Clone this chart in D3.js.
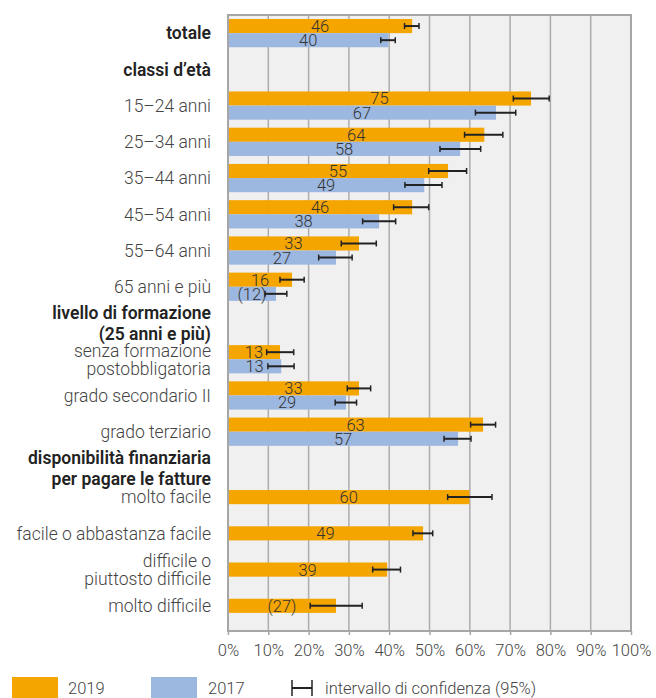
<!DOCTYPE html>
<html>
<head>
<meta charset="utf-8">
<script src="https://cdn.jsdelivr.net/npm/d3@7"></script>
<style>
  body { margin: 0; background: #fff; }
  svg text { font-family: Roboto, "Noto Sans", sans-serif; }
</style>
</head>
<body>
<svg id="chart"></svg>
<script>
// categories (row keys), with label lines and header flag
var categories = ['totale', 'classi', 'a15', 'a25', 'a35', 'a45', 'a55', 'a65',
  'livello', 'senza', 'secondario', 'terziario', 'disp', 'mfacile', 'facile', 'difficile', 'mdifficile'];
var categoryLabels = ['totale', 'classi d’età', '15–24 anni', '25–34 anni', '35–44 anni', '45–54 anni',
  '55–64 anni', '65 anni e più', 'livello di formazione\n(25 anni e più)',
  'senza formazione\npostobbligatoria', 'grado secondario II', 'grado terziario',
  'disponibilità finanziaria\nper pagare le fatture', 'molto facile', 'facile o abbastanza facile',
  'difficile o\npiuttosto difficile', 'molto difficile'];
var headerRows = ['totale', 'classi', 'livello', 'disp'];

var series = ['2019', '2017'];
var values2019 = [45.7, null, 75.2, 63.6, 54.6, 45.7, 32.5, 15.9, null, 12.9, 32.5, 63.3, null, 59.9, 48.4, 39.5, 26.8];
var low2019    = [43.8, null, 70.8, 58.7, 49.8, 41.1, 28.1, 12.9, null, 9.6, 29.6, 60.2, null, 54.5, 45.9, 35.9, 20.4];
var high2019   = [47.4, null, 79.7, 68.2, 59.2, 49.8, 36.8, 18.9, null, 16.3, 35.4, 66.4, null, 65.5, 50.8, 42.8, 33.3];
var labels2019 = ['46', '', '75', '64', '55', '46', '33', '16', '', '13', '33', '63', '', '60', '49', '39', '(27)'];

var values2017 = [39.8, null, 66.5, 57.6, 48.7, 37.5, 26.8, 11.9, null, 13.2, 29.3, 57.1, null, null, null, null, null];
var low2017    = [37.9, null, 61.4, 52.6, 43.9, 33.4, 22.5, 9.2, null, 9.9, 26.6, 53.6, null, null, null, null, null];
var high2017   = [41.5, null, 71.4, 62.7, 53.1, 41.6, 30.8, 14.6, null, 16.4, 31.9, 60.3, null, null, null, null, null];
var labels2017 = ['40', '', '67', '58', '49', '38', '27', '(12)', '', '13', '29', '57', '', '', '', '', ''];

var xTicks = [0, 10, 20, 30, 40, 50, 60, 70, 80, 90, 100];

var colors = { '2019': '#F5A500', '2017': '#9DB8E0' };

var width = 656, height = 698;
var plotLeft = 228, plotRight = 631, plotTop = 15, plotBottom = 631;

var svg = d3.select('#chart').attr('width', width).attr('height', height);

var x = d3.scaleLinear().domain([0, 100]).range([plotLeft, plotRight]);
var y = d3.scaleBand().domain(categories).range([plotTop, plotBottom]).paddingInner(0.22).paddingOuter(0.11);
var ySub = d3.scaleBand().domain(series).range([0, y.bandwidth()]);

// build rows
var rows = [];
categories.forEach(function (c, i) {
  rows.push({ cat: c, s: '2019', v: values2019[i], lo: low2019[i], hi: high2019[i], label: labels2019[i] });
  rows.push({ cat: c, s: '2017', v: values2017[i], lo: low2017[i], hi: high2017[i], label: labels2017[i] });
});
rows = rows.filter(function (d) { return d.v != null; });

// plot background
svg.append('rect')
  .attr('x', plotLeft).attr('y', plotTop)
  .attr('width', plotRight - plotLeft).attr('height', plotBottom - plotTop)
  .attr('fill', '#F0F0F0');

// grid
svg.append('g').selectAll('line')
  .data(xTicks.slice(1, -1))
  .enter().append('line')
  .attr('x1', function (d) { return x(d); }).attr('x2', function (d) { return x(d); })
  .attr('y1', plotTop).attr('y2', plotBottom)
  .attr('stroke', '#ADADAD').attr('stroke-width', 1.5);

// bars
svg.append('g').selectAll('rect')
  .data(rows)
  .enter().append('rect')
  .attr('x', x(0))
  .attr('y', function (d) { return y(d.cat) + ySub(d.s); })
  .attr('width', function (d) { return x(d.v) - x(0); })
  .attr('height', ySub.bandwidth())
  .attr('fill', function (d) { return colors[d.s]; });

// value labels
svg.append('g').selectAll('text')
  .data(rows)
  .enter().append('text')
  .attr('x', function (d) { return (x(0) + x(d.v)) / 2; })
  .attr('y', function (d) { return y(d.cat) + ySub(d.s) + ySub.bandwidth() / 2; })
  .attr('dy', '0.36em')
  .attr('text-anchor', 'middle')
  .attr('font-size', 16.5)
  .attr('font-weight', 300)
  .attr('fill', '#333')
  .text(function (d) { return d.label; });

// error bars
var err = svg.append('g').selectAll('g')
  .data(rows)
  .enter().append('g')
  .attr('transform', function (d) {
    return 'translate(0,' + (y(d.cat) + ySub(d.s) + ySub.bandwidth() / 2) + ')';
  })
  .attr('stroke', '#222');
err.append('line')
  .attr('x1', function (d) { return x(d.lo); }).attr('x2', function (d) { return x(d.hi); })
  .attr('stroke-width', 2);
err.append('line')
  .attr('x1', function (d) { return x(d.lo); }).attr('x2', function (d) { return x(d.lo); })
  .attr('y1', -3).attr('y2', 3).attr('stroke-width', 1.5);
err.append('line')
  .attr('x1', function (d) { return x(d.hi); }).attr('x2', function (d) { return x(d.hi); })
  .attr('y1', -3).attr('y2', 3).attr('stroke-width', 1.5);

// plot frame
svg.append('rect')
  .attr('x', plotLeft).attr('y', plotTop)
  .attr('width', plotRight - plotLeft).attr('height', plotBottom - plotTop)
  .attr('fill', 'none').attr('stroke', '#A6A6A6').attr('stroke-width', 2);

// x axis
var xAxis = svg.append('g')
  .attr('transform', 'translate(0,' + plotBottom + ')')
  .call(d3.axisBottom(x).tickValues(xTicks).tickSize(4).tickPadding(9)
    .tickFormat(function (d) { return d + '%'; }));
xAxis.select('.domain').remove();
xAxis.selectAll('line').attr('stroke', '#A6A6A6').attr('stroke-width', 1.5);
xAxis.selectAll('text')
  .attr('font-size', 16.5).attr('font-weight', 300)
  .attr('fill', '#444').style('font-family', 'Roboto, sans-serif');

// category labels: centred on the bars that exist in the row
function labelCenter(c, i) {
  if (values2019[i] != null && values2017[i] == null) {
    return y(c) + ySub('2019') + ySub.bandwidth() / 2;
  }
  return y(c) + y.bandwidth() / 2;
}
var catLabel = svg.append('g').selectAll('text')
  .data(categories)
  .enter().append('text')
  .attr('text-anchor', 'end')
  .attr('font-size', 17.5)
  .attr('font-weight', function (d) { return headerRows.indexOf(d) >= 0 ? 600 : 300; })
  .attr('fill', function (d) { return headerRows.indexOf(d) >= 0 ? '#222' : '#444'; })
  .attr('transform', function (d, i) { return 'translate(211,' + labelCenter(d, i) + ')'; });
catLabel.each(function (d, i) {
  var lines = categoryLabels[i].split('\n');
  var lh = headerRows.indexOf(d) >= 0 ? 21 : 18;
  var t = d3.select(this);
  lines.forEach(function (l, j) {
    t.append('tspan')
      .attr('x', 0)
      .attr('y', (j - (lines.length - 1) / 2) * lh)
      .attr('dy', '0.36em')
      .text(l);
  });
});

// legend
var legend = svg.append('g');
legend.append('rect').attr('x', 12).attr('y', 677).attr('width', 46).attr('height', 21).attr('fill', colors['2019']);
legend.append('text').attr('x', 68).attr('y', 694).text('2019');
legend.append('rect').attr('x', 151).attr('y', 677).attr('width', 46).attr('height', 21).attr('fill', colors['2017']);
legend.append('text').attr('x', 208).attr('y', 694).text('2017');
var icon = legend.append('g').attr('stroke', '#222');
icon.append('line').attr('x1', 292).attr('x2', 312).attr('y1', 688).attr('y2', 688).attr('stroke-width', 2);
icon.append('line').attr('x1', 292).attr('x2', 292).attr('y1', 680).attr('y2', 696).attr('stroke-width', 1.5);
icon.append('line').attr('x1', 312).attr('x2', 312).attr('y1', 680).attr('y2', 696).attr('stroke-width', 1.5);
legend.append('text').attr('x', 325).attr('y', 694).text('intervallo di confidenza (95%)');
legend.selectAll('text').attr('font-size', 16.5).attr('font-weight', 300).attr('fill', '#444');
</script>
</body>
</html>
